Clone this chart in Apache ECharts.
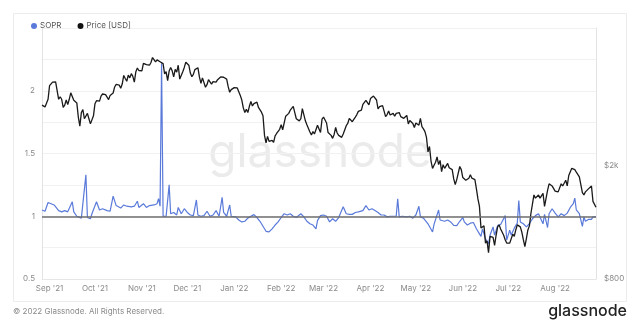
<!DOCTYPE html>
<html>
<head>
<meta charset="utf-8">
<script src="https://cdn.jsdelivr.net/npm/echarts@6/dist/echarts.min.js"></script>
<style>html,body{margin:0;padding:0;background:#fff;}#c{width:640px;height:330px;}</style>
</head>
<body>
<div id="c"></div>
<script>
const monthTicks = ['2021-09-01','2021-10-01','2021-11-01','2021-12-01','2022-01-01','2022-02-01','2022-03-01','2022-04-01','2022-05-01','2022-06-01','2022-07-01','2022-08-01'];
const monthLabels = ["Sep '21","Oct '21","Nov '21","Dec '21","Jan '22","Feb '22","Mar '22","Apr '22","May '22","Jun '22","Jul '22","Aug '22"];
const soprTicks = [0.5, 1, 1.5, 2];
const priceTicks = [800, 2000];
const priceTickLabels = ['$800', '$2k'];

const soprDates = ['2021-08-27','2021-08-29','2021-08-31','2021-09-02','2021-09-04','2021-09-07','2021-09-09','2021-09-11','2021-09-13','2021-09-16','2021-09-17','2021-09-19','2021-09-20','2021-09-22','2021-09-23','2021-09-25','2021-09-26','2021-09-28','2021-09-29','2021-10-02','2021-10-04','2021-10-06','2021-10-09','2021-10-11','2021-10-13','2021-10-15','2021-10-18','2021-10-20','2021-10-22','2021-10-25','2021-10-27','2021-10-29','2021-10-30','2021-11-02','2021-11-04','2021-11-06','2021-11-09','2021-11-11','2021-11-12','2021-11-13','2021-11-14','2021-11-15','2021-11-17','2021-11-19','2021-11-20','2021-11-22','2021-11-24','2021-11-25','2021-11-27','2021-11-29','2021-12-01','2021-12-03','2021-12-05','2021-12-07','2021-12-08','2021-12-10','2021-12-12','2021-12-14','2021-12-16','2021-12-18','2021-12-20','2021-12-22','2021-12-24','2021-12-25','2021-12-27','2021-12-29','2021-12-30','2022-01-02','2022-01-04','2022-01-06','2022-01-08','2022-01-10','2022-01-12','2022-01-14','2022-01-16','2022-01-18','2022-01-20','2022-01-22','2022-01-24','2022-01-26','2022-01-28','2022-01-30','2022-02-01','2022-02-03','2022-02-05','2022-02-07','2022-02-09','2022-02-11','2022-02-14','2022-02-16','2022-02-18','2022-02-20','2022-02-22','2022-02-24','2022-02-25','2022-02-27','2022-03-01','2022-03-03','2022-03-05','2022-03-07','2022-03-09','2022-03-11','2022-03-14','2022-03-16','2022-03-18','2022-03-20','2022-03-22','2022-03-24','2022-03-27','2022-03-29','2022-03-31','2022-04-02','2022-04-04','2022-04-06','2022-04-08','2022-04-10','2022-04-12','2022-04-14','2022-04-16','2022-04-18','2022-04-19','2022-04-20','2022-04-22','2022-04-25','2022-04-27','2022-04-29','2022-05-01','2022-05-03','2022-05-04','2022-05-06','2022-05-09','2022-05-10','2022-05-12','2022-05-13','2022-05-14','2022-05-16','2022-05-17','2022-05-20','2022-05-22','2022-05-24','2022-05-26','2022-05-28','2022-05-30','2022-06-01','2022-06-02','2022-06-04','2022-06-06','2022-06-08','2022-06-10','2022-06-12','2022-06-13','2022-06-14','2022-06-16','2022-06-18','2022-06-19','2022-06-21','2022-06-22','2022-06-24','2022-06-26','2022-06-27','2022-06-29','2022-06-30','2022-07-02','2022-07-03','2022-07-05','2022-07-07','2022-07-08','2022-07-09','2022-07-11','2022-07-13','2022-07-15','2022-07-17','2022-07-19','2022-07-21','2022-07-22','2022-07-24','2022-07-25','2022-07-26','2022-07-27','2022-07-28','2022-07-30','2022-08-01','2022-08-03','2022-08-05','2022-08-07','2022-08-09','2022-08-10','2022-08-11','2022-08-12','2022-08-13','2022-08-14','2022-08-15','2022-08-17','2022-08-19','2022-08-20','2022-08-21','2022-08-23','2022-08-25','2022-08-26','2022-08-27','2022-08-28'];
const soprValues = [1.05,1.04,1.11,1.10,1.09,1.045,1.035,1.045,1.035,1.115,1.035,1.00,0.99,0.985,0.995,1.33,0.99,0.98,1.02,1.115,1.05,1.06,1.045,1.04,1.16,1.085,1.065,1.09,1.08,1.075,1.08,1.12,1.07,1.10,1.07,1.085,1.09,1.10,1.14,1.08,2.22,1.00,1.00,1.25,1.02,1.03,1.01,1.07,1.02,1.06,1.03,1.01,1.005,1.13,1.01,1.00,1.005,1.04,1.00,1.01,1.045,1.00,1.15,1.03,1.00,1.09,1.00,0.995,0.97,0.955,0.96,0.985,1.0,1.013,0.99,0.96,0.92,0.88,0.875,0.90,0.93,0.955,0.99,1.02,1.01,1.02,1.0,0.99,1.02,0.995,0.96,0.94,0.93,0.90,0.965,1.005,1.01,1.0,0.955,0.98,0.96,0.99,1.075,1.02,1.015,1.015,1.03,1.035,1.045,1.085,1.05,1.06,1.045,1.03,1.01,1.01,0.995,1.0,1.0,1.0,1.14,0.995,1.0,0.995,1.0,0.985,1.01,1.08,0.995,0.985,0.94,0.925,0.875,0.935,0.945,1.05,0.97,0.96,0.97,0.955,0.928,0.925,0.96,0.99,0.955,0.93,0.945,0.95,0.90,0.86,0.84,0.9,0.82,0.78,0.85,0.915,0.85,0.925,0.935,0.925,1.005,0.81,0.89,0.85,0.905,0.945,1.125,0.955,0.94,0.915,0.94,0.98,1.005,1.02,1.015,0.94,1.015,1.025,0.91,1.02,1.06,1.025,0.995,1.02,1.005,1.025,1.035,1.07,1.06,1.10,1.145,1.05,1.02,0.92,0.995,0.96,0.975,0.975,0.995,0.985,0.995];

const priceStart = '2021-08-27';
const priceValues = [3270,3240,3225,3225,3430,3830,3790,3940,3890,3950,3930,3430,3500,3430,3210,3270,3410,3285,3430,3615,3570,3400,3430,3330,2970,2760,3080,3155,2930,2920,3060,2930,2810,2850,3000,
3310,3390,3420,3380,3520,3580,3590,3560,3580,3420,3540,3490,3610,3790,3870,3830,3850,3750,3880,4160,4060,3970,4170,4080,4220,4130,3940,4290,4420,4330,4290,
4320,4590,4600,4540,4480,4520,4620,4810,4730,4640,4720,4670,4650,4630,4580,4210,4290,3990,4310,4440,4320,4110,4370,4270,4520,4040,4100,4290,4440,4630,
4590,4520,4240,4120,4200,4360,4310,4430,4110,3900,4080,4130,3780,3860,4020,3960,3880,3960,3920,3940,4020,3980,4110,4050,4100,4070,4040,3800,3630,3710,3680,
3770,3830,3760,3790,3540,3410,3200,3080,3160,3080,3240,3370,3250,3310,3330,3350,3210,3160,3090,3000,2560,2410,2540,2440,2460,2460,2420,2550,2600,2610,2690,
2790,2680,2660,2990,3020,3060,3140,3120,3240,3080,2930,2920,2880,2930,3180,3130,2880,2790,2760,2630,2570,2640,2590,2600,2780,2780,2620,2920,
2970,2950,2830,2620,2660,2560,2500,2580,2730,2610,2560,2570,2520,2590,2620,2770,2820,2940,2950,2860,2900,2970,3030,3110,3110,3140,3290,3330,3400,3380,3280,
3450,3440,3520,3520,3410,3170,3230,3190,3260,3210,2980,3030,3120,3020,3040,3060,2990,3060,3100,3080,2980,2960,2940,2920,3010,2810,2890,2930,2820,2730,
2830,2860,2780,2940,2750,2700,2640,2520,2240,2340,2080,1960,2010,2060,2150,2020,2090,1910,2020,1960,1980,2040,1970,1980,1940,1800,1720,1790,1810,1990,1940,
1820,1830,1780,1800,1810,1860,1810,1790,1790,1660,1530,1440,1210,1210,1230,1070,1090,990,1130,1130,1120,1050,1140,1220,1240,1200,1190,1140,1100,1070,
1060,1070,1070,1150,1130,1190,1240,1230,1220,1170,1100,1040,1110,1190,1230,1360,1340,1580,1540,1520,1580,1540,1550,1600,1440,1450,1640,1730,1740,1700,1680,
1630,1630,1620,1610,1730,1700,1700,1780,1700,1850,1880,1960,1980,1940,1900,1880,1830,1850,1610,1580,1620,1630,1660,1660,1700,1500,1490,1430];

const DAY = 86400000;
const t0 = new Date(priceStart + 'T00:00:00').getTime();
const priceData = priceValues.map((v, i) => [t0 + i * DAY, v]);
const soprData = soprDates.map((d, i) => [d, soprValues[i]]);

const chart = echarts.init(document.getElementById('c'), null, {renderer: 'canvas'});
const gray = '#8a8a8a';
chart.setOption({
  animation: false,
  backgroundColor: '#fff',
  textStyle: {fontFamily: 'Inter, "Noto Sans", sans-serif'},
  legend: {
    left: 26, top: 17, itemWidth: 6, itemHeight: 6, itemGap: 16, icon: 'circle',
    textStyle: {fontSize: 8, color: '#555', padding: [0, 0, 0, -2]},
    data: [{name: 'SOPR', itemStyle: {color: '#5a7ada'}}, {name: 'Price [USD]', itemStyle: {color: '#111'}}]
  },
  grid: {left: 42, right: 44, top: 28, bottom: 51, containLabel: false},
  xAxis: {
    type: 'time',
    min: '2021-08-27', max: '2022-08-28',
    minInterval: 28 * DAY, maxInterval: 31 * DAY,
    axisLine: {show: true, lineStyle: {color: '#e6e6e6'}},
    axisTick: {show: false},
    splitLine: {show: false},
    axisLabel: {
      fontSize: 8, color: gray, margin: 6, hideOverlap: false, showMinLabel: false, showMaxLabel: false,
      formatter: function (v) {
        const d = new Date(v);
        const key = d.getFullYear() + '-' + String(d.getMonth() + 1).padStart(2, '0') + '-' + String(d.getDate()).padStart(2, '0');
        const i = monthTicks.indexOf(key);
        return i >= 0 ? monthLabels[i] : '';
      }
    }
  },
  yAxis: [{
    type: 'value', min: 0.5, max: 2.5, interval: 0.25,
    axisLine: {show: true, lineStyle: {color: '#e3e3e3'}},
    axisTick: {show: false},
    splitLine: {show: true, lineStyle: {color: '#f1f1f1', width: 1}},
    axisLabel: {
      fontSize: 8, color: gray, margin: 7,
      formatter: function (v) { return soprTicks.indexOf(Math.round(v * 100) / 100) >= 0 ? String(v) : ''; }
    }
  }, {
    type: 'log', logBase: 10, min: 800, max: 6110, position: 'right',
    axisLine: {show: true, lineStyle: {color: '#e3e3e3'}},
    axisTick: {show: false},
    splitLine: {show: false},
    axisLabel: {show: false}
  }],
  graphic: [
    {type: 'rect', shape: {x: 13.5, y: 13.5, width: 613, height: 288}, style: {fill: 'none', stroke: '#ececec', lineWidth: 1}, z: -10, silent: true},
    {type: 'text', left: 'center', top: 130, z: -5, silent: true,
      style: {text: 'glassnode', fontSize: 46, fontWeight: 400, fill: '#ebebeb', fontFamily: 'Inter, "Noto Sans", sans-serif'}},
    {type: 'text', left: 13, top: 308, silent: true,
      style: {text: '\u00a9 2022 Glassnode. All Rights Reserved.', fontSize: 8, fill: '#8a8a8a', fontFamily: 'Inter, "Noto Sans", sans-serif'}},
    {type: 'text', right: 13, top: 303, silent: true,
      style: {text: 'glassnode', fontSize: 16, fontWeight: 500, fill: '#222', fontFamily: 'Inter, "Noto Sans", sans-serif'}}
  ],
  series: [{
    name: 'SOPR', type: 'line', yAxisIndex: 0, data: soprData, showSymbol: false,
    lineStyle: {color: '#5a7ada', width: 1.2}, itemStyle: {color: '#5a7ada'},
    markLine: {silent: true, symbol: 'none', label: {show: false},
      lineStyle: {color: '#6e6e6e', width: 1.5, type: 'solid'},
      data: [{yAxis: 1}]}
  }, {
    name: 'Price [USD]', type: 'line', yAxisIndex: 1, data: priceData, showSymbol: false,
    lineStyle: {color: '#1a1a1a', width: 1.3}, itemStyle: {color: '#111'},
    markLine: {silent: true, symbol: 'none',
      lineStyle: {color: 'rgba(0,0,0,0)', width: 0},
      label: {show: true, position: 'end', distance: 8, fontSize: 8, color: gray,
        formatter: function (p) { const i = priceTicks.indexOf(Math.round(p.value)); return i >= 0 ? priceTickLabels[i] : ''; }},
      data: priceTicks.map(v => ({yAxis: v}))}
  }]
});
</script>
</body>
</html>
